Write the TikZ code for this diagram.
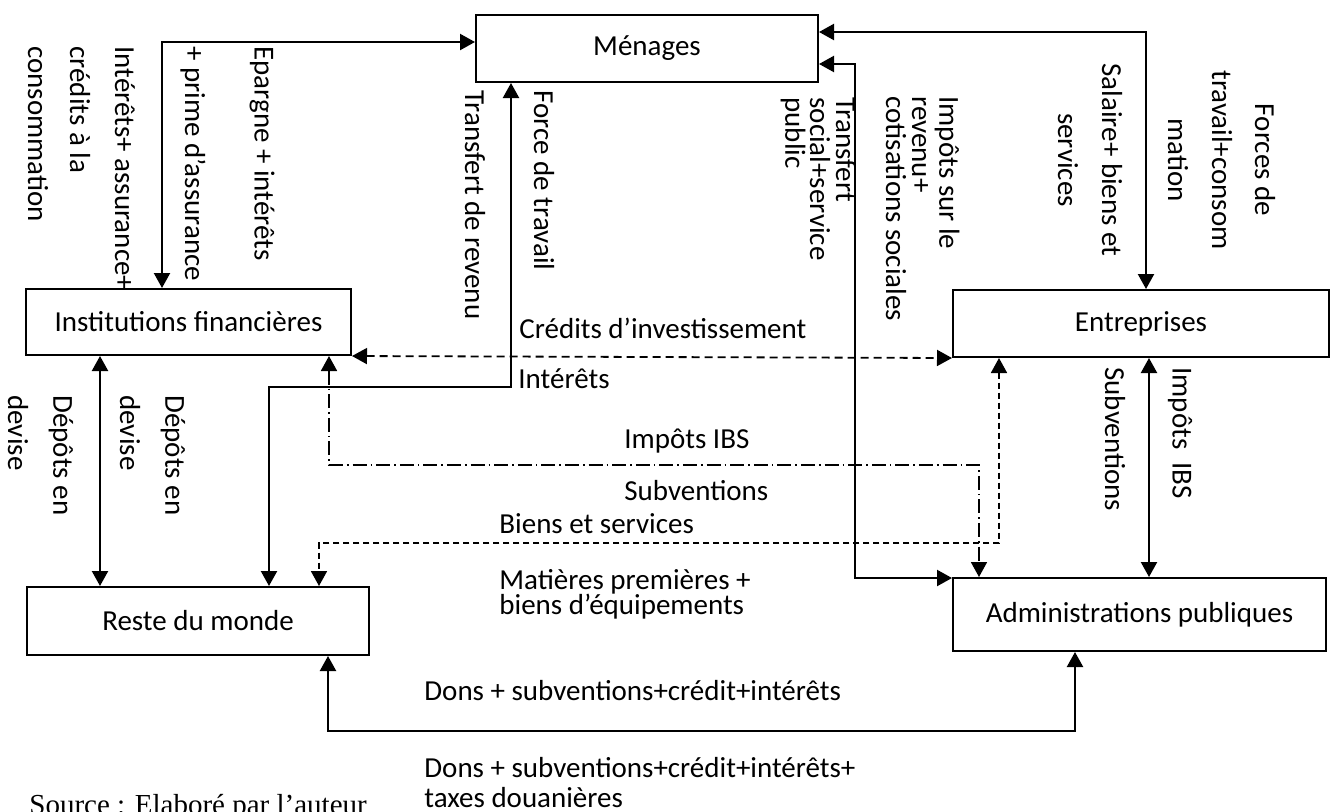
\documentclass[tikz,border=0pt]{standalone}
\usepackage{fontspec}
\setmainfont{Carlito}
\newfontfamily\srcfont{Liberation Serif}
\usetikzlibrary{arrows.meta}
\begin{document}
\begin{tikzpicture}[x=0.5pt,y=-0.5pt,
  every node/.style={font=\fontsize{14.5}{17}\selectfont},
  >={Triangle[length=7.5pt,width=8pt]},
  box/.style={draw, line width=1pt, inner sep=0pt},
  link/.style={line width=1.1pt, <->},
  dlink/.style={line width=0.9pt, <->, dash pattern=on 4pt off 2.5pt},
  dlinkfine/.style={line width=0.9pt, <->, dash pattern=on 3pt off 2pt},
  dotlink/.style={line width=0.9pt, <->, dash pattern=on 7pt off 2pt on 0.8pt off 2pt},
  vlab/.style={rotate=-90, anchor=west, inner sep=0pt},
  vcen/.style={rotate=-90, inner sep=0pt},
  hlab/.style={anchor=base west, inner sep=0pt}]

\path[fill=white, use as bounding box] (0,0) rectangle (1330,811);

% sectors
\node[box, minimum width=171pt, minimum height=33.5pt] (men) at (647,48.5) {Ménages};
\node[box, minimum width=162.5pt, minimum height=33pt] (inst) at (188.5,322) {Institutions financières};
\node[box, minimum width=188pt, minimum height=33.5pt] (ent) at (1141,323.5) {Entreprises};
\node[box, minimum width=171pt, minimum height=34pt] (rm) at (198,621) {Reste du monde};
\node[box, minimum width=186.5pt, minimum height=36.5pt] (adm) at (1139.5,614.5) {Administrations publiques};

% bend points of the flows
\coordinate (epX) at (162,42);
\coordinate (ftA) at (511,387);
\coordinate (ftB) at (269,387);
\coordinate (ibA) at (329,465);
\coordinate (ibB) at (979,465);
\coordinate (bsA) at (999,543);
\coordinate (bsB) at (319,543);
\coordinate (irA) at (855,64);
\coordinate (irB) at (855,578);
\coordinate (saA) at (1146,32);
\coordinate (ibs) at (1149,0);
\coordinate (dep) at (100,0);
\coordinate (dnA) at (328,731);
\coordinate (dnB) at (1075,731);

% flows
\draw[link] (inst.north -| epX) |- (men.west |- epX);
\draw[link] (men.south -| ftA) -- (ftA) -- (ftB) -- (rm.north -| ftB);
\draw[dlink] (inst.south east) -- (ent.south west);
\draw[dotlink] (inst.south -| ibA) -- (ibA) -- (ibB) -- (adm.north -| ibB);
\draw[dlinkfine] (ent.south -| bsA) -- (bsA) -- (bsB) -- (rm.north -| bsB);
\draw[link] (men.east |- irA) -- (irA) -- (irB) -- (adm.west |- irB);
\draw[link] (men.east |- saA) -- (saA) -- (ent.north -| saA);
\draw[link] (ent.south -| ibs) -- (adm.north -| ibs);
\draw[link] (inst.south -| dep) -- (rm.north -| dep);
\draw[link] (rm.south -| dnA) -- (dnA) -- (dnB) -- (adm.south -| dnB);

% vertical labels
\node[vlab] (lEp1) at (262,46) {Epargne + intérêts};
\node[vlab] (lEp2) at (193,46) {+ prime d’assurance};
\node[vlab] (lCr1) at (125,46) {Intérêts+ assurance+};
\node[vlab] (lCr2) at (80,46) {crédits à la};
\node[vlab] (lCr3) at (38,46) {consommation};
\node[vlab] (lTr) at (475,90) {Transfert de revenu};
\node[vlab] (lFt) at (544,90) {Force de travail};
\node[vlab] (lTs1) at (846,97) {Transfert};
\node[vlab] (lTs2) at (820,97) {social+service};
\node[vlab] (lTs3) at (793,97) {public};
\node[vlab] (lIr1) at (947,96) {Impôts sur le};
\node[vlab] (lIr2) at (920,96) {revenu+};
\node[vlab] (lIr3) at (896,96) {cotisations sociales};
\node[vcen] (lSa1) at (1112,160) {Salaire+ biens et};
\node[vcen] (lSa2) at (1068,160) {services};
\node[vcen] (lFo1) at (1265,160) {Forces de};
\node[vcen] (lFo2) at (1222,160) {travail+consom};
\node[vcen] (lFo3) at (1178,160) {mation};
\node[vlab] (lSub) at (1115,367) {Subventions};
\node[vlab] (lIbs) at (1180,367) {Impôts\ \ IBS};
\node[vlab] (lDe1) at (61,395) {Dépôts en};
\node[vlab] (lDe2) at (18,395) {devise};
\node[vlab] (lDe3) at (173,395) {Dépôts en};
\node[vlab] (lDe4) at (130,395) {devise};

% horizontal labels
\node[hlab] (lCi) at (519,338) {Crédits d’investissement};
\node[hlab] (lIn) at (518,388) {Intérêts};
\node[hlab] (lIb) at (624,448) {Impôts IBS};
\node[hlab] (lSv) at (624,500) {Subventions};
\node[hlab] (lBs) at (499,533) {Biens et services};
\node[hlab] (lMp1) at (499,589) {Matières premières +};
\node[hlab] (lMp2) at (499,614) {biens d’équipements};
\node[hlab] (lDo1) at (424,700) {Dons + subventions+crédit+intérêts};
\node[hlab] (lDo2) at (424,777) {Dons + subventions+crédit+intérêts+};
\node[hlab] (lDo3) at (424,807) {taxes douanières};
\node[hlab] (lSrc) at (29,814) {\srcfont Source : Elaboré par l’auteur};
\end{tikzpicture}
\end{document}
